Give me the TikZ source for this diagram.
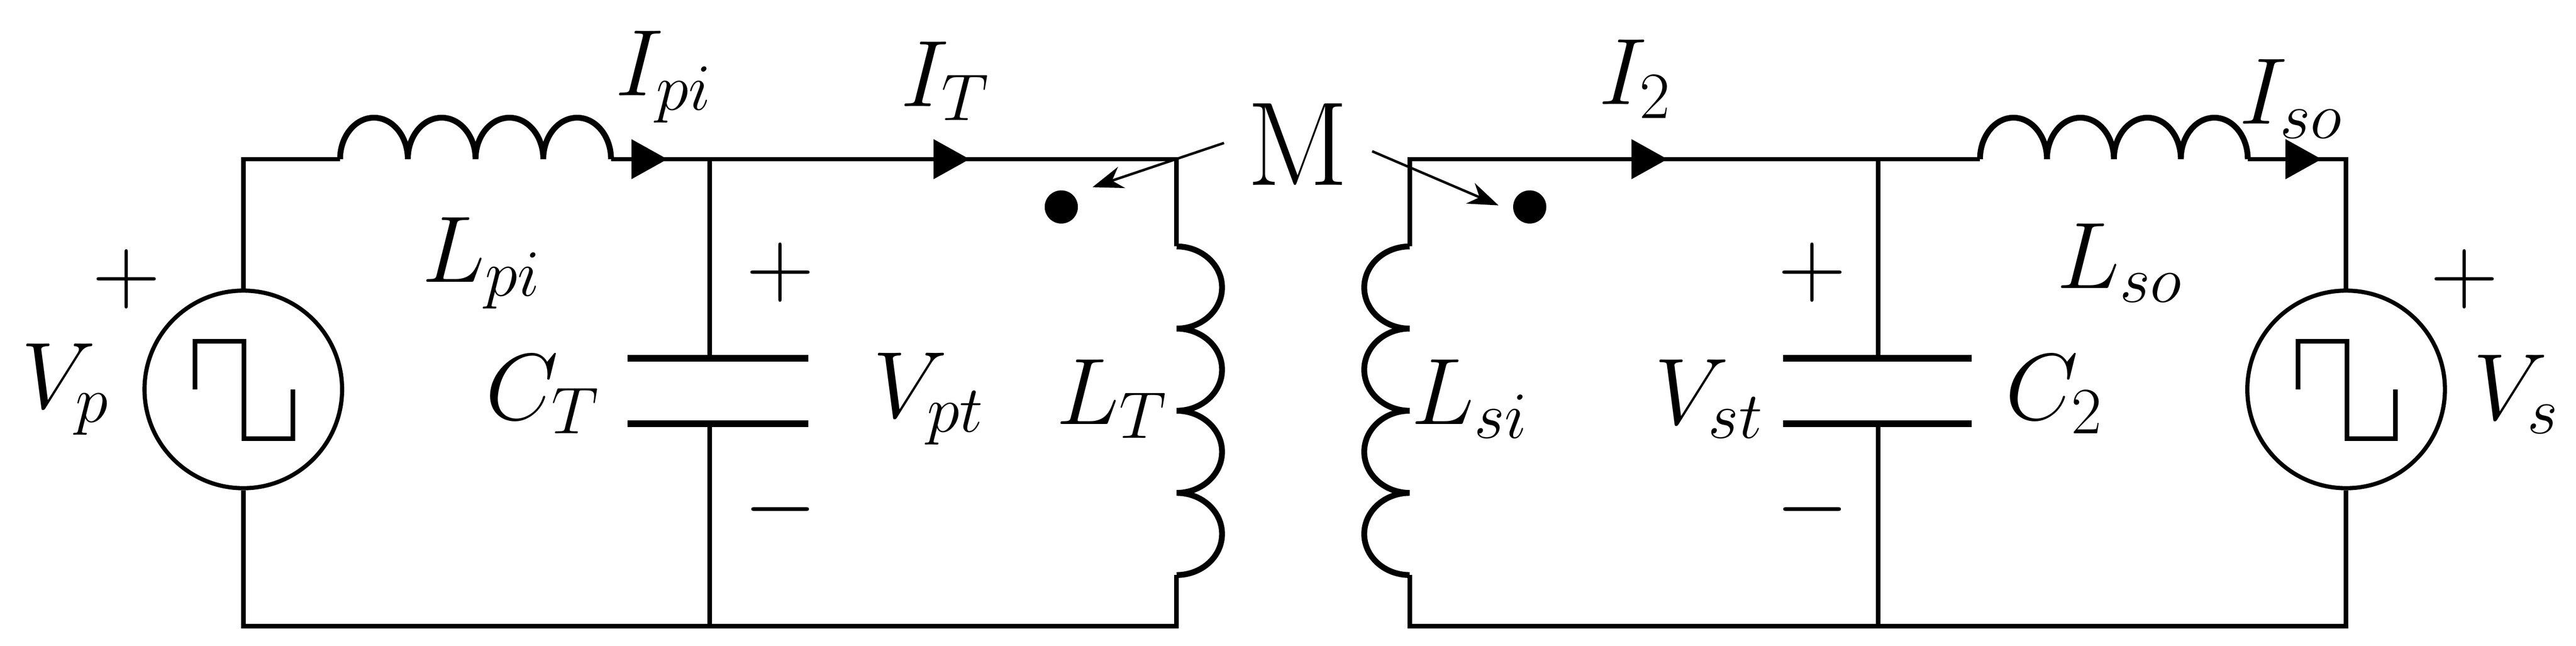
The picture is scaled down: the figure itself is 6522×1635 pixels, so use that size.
\RequirePackage{fix-cm}
\documentclass[tikz,border=0pt]{standalone}
\usetikzlibrary{arrows.meta}
\tikzset{
  wire/.style={line width=3.3pt},
  coil/.style={line width=4.2pt},
  plate/.style={line width=4.6pt},
  lbl/.style={font=\fontsize{68}{80}\selectfont, inner sep=0pt},
  cur/.style={wire,-{Triangle[length=26pt,width=28pt]}},
  marr/.style={line width=1.8pt,-{Stealth[length=22pt,width=16pt]}},
}
\begin{document}
\begin{tikzpicture}[x=0.01cm,y=-0.01cm]
\useasboundingbox (0,0) rectangle (6522,1635);
% coordinates
\coordinate (TL) at (616,403);
\coordinate (BL) at (616,1585);
\coordinate (LpiA) at (861,403);
\coordinate (LpiB) at (1547,403);
\coordinate (IpiTip) at (1690,403);
\coordinate (CTtop) at (1797,403);
\coordinate (CTbot) at (1797,1585);
\coordinate (ITtip) at (2455,403);
\coordinate (LTtop) at (2979,403);
\coordinate (LTa) at (2979,624);
\coordinate (LTb) at (2979,1456);
\coordinate (LTbot) at (2979,1585);
\coordinate (LStop) at (3569,403);
\coordinate (LSa) at (3569,624);
\coordinate (LSb) at (3569,1456);
\coordinate (LSbot) at (3569,1585);
\coordinate (I2tip) at (4222,403);
\coordinate (C2top) at (4755,403);
\coordinate (C2bot) at (4755,1585);
\coordinate (LsoA) at (5013,403);
\coordinate (LsoB) at (5691,403);
\coordinate (IsoTip) at (5878,403);
\coordinate (TR) at (5940,403);
\coordinate (BR) at (5940,1585);
% sources
\node[draw,circle,line width=3pt,minimum size=5cm,inner sep=0pt] (VP) at (616,986) {};
\node[draw,circle,line width=3pt,minimum size=5cm,inner sep=0pt] (VS) at (5940,986) {};
\foreach \c in {VP,VS}{
  \draw[line width=3.3pt] ([shift={(-122,0)}]\c.center) -- ++(0,-122) -- ++(124,0) -- ++(0,247) -- ++(123,0) -- ++(0,-125);
}
% left loop
\draw[wire] (VP.north) -- (TL) -- (LpiA);
\draw[coil] (LpiA) \foreach \i in {1,...,4}{ arc[start angle=180,end angle=360,x radius=85.75,y radius=105] };
\draw[wire] (LpiB) -- (LTtop) -- (LTa);
\draw[cur] (LpiB) -- (IpiTip);
\draw[cur] (CTtop) -- (ITtip);
\draw[coil] (LTa) \foreach \i in {1,...,4}{ arc[start angle=270,end angle=450,x radius=115,y radius=104] };
\draw[wire] (LTb) -- (LTbot) -- (BL) -- (VP.south);
\draw[wire] (CTtop) -- (1797,907);
\draw[wire] (1797,1073) -- (CTbot);
\draw[plate] (1589,907) -- (2047,907);
\draw[plate] (1589,1073) -- (2047,1073);
% right loop
\draw[wire] (LSa) -- (LStop) -- (LsoA);
\draw[cur] (LStop) -- (I2tip);
\draw[coil] (LSa) \foreach \i in {1,...,4}{ arc[start angle=270,end angle=90,x radius=115,y radius=104] };
\draw[coil] (LsoA) \foreach \i in {1,...,4}{ arc[start angle=180,end angle=360,x radius=84.75,y radius=105] };
\draw[wire] (LsoB) -- (TR) -- (VS.north);
\draw[cur] (LsoB) -- (IsoTip);
\draw[wire] (LSb) -- (LSbot) -- (BR) -- (VS.south);
\draw[wire] (C2top) -- (4755,907);
\draw[wire] (4755,1073) -- (C2bot);
\draw[plate] (4514,907) -- (4992,907);
\draw[plate] (4514,1073) -- (4992,1073);
% dots and M
\fill (2687,524) circle (42);
\fill (3873,524) circle (42);
\node[lbl,font=\fontsize{86}{96}\selectfont] (M) at (3286,365) {M};
\coordinate (Mdl) at (2766,474);
\coordinate (Mdr) at (3794,520);
\draw[marr] (3099,362) -- (Mdl);
\draw[marr] (3474,383) -- (Mdr);
% labels
\node[lbl] (lVp) at (165,986) {$V_p$};
\node[lbl] (pVp) at (320,707) {$+$};
\node[lbl] (lLpi) at (1219,666) {$L_{pi}$};
\node[lbl] (lIpi) at (1680,195) {$I_{pi}$};
\node[lbl] (lCT) at (1373,998) {$C_T$};
\node[lbl] (pCT) at (1976,690) {$+$};
\node[lbl] (mCT) at (1976,1290) {$-$};
\node[lbl] (lIT) at (2392,205) {$I_T$};
\node[lbl] (lVpt) at (2350,1010) {$V_{pt}$};
\node[lbl] (lLT) at (2815,1010) {$L_T$};
\node[lbl] (lLsi) at (3720,1010) {$L_{si}$};
\node[lbl] (lVst) at (4326,1010) {$V_{st}$};
\node[lbl] (lI2) at (4139,200) {$I_2$};
\node[lbl] (pC2) at (4588,690) {$+$};
\node[lbl] (mC2) at (4588,1290) {$-$};
\node[lbl] (lC2) at (5200,998) {$C_2$};
\node[lbl] (lLso) at (5366,666) {$L_{so}$};
\node[lbl] (lIso) at (5800,250) {$I_{so}$};
\node[lbl] (pVs) at (6240,707) {$+$};
\node[lbl] (lVs) at (6370,998) {$V_s$};
\end{tikzpicture}
\end{document}
